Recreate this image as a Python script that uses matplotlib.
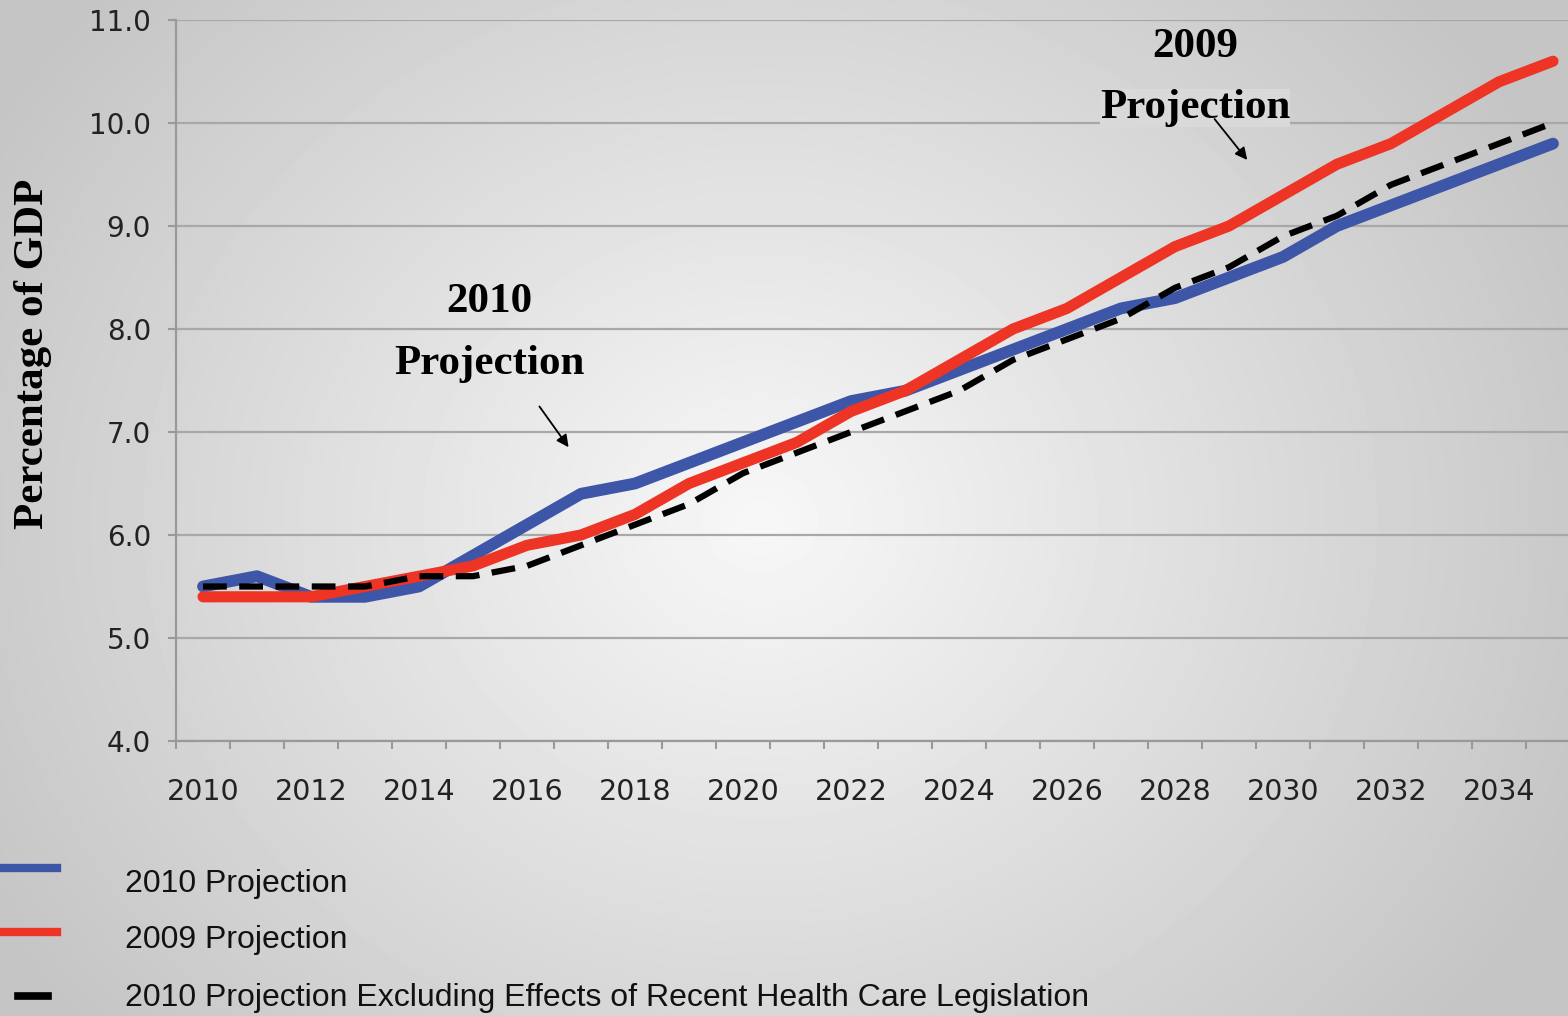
import numpy as np
import matplotlib
matplotlib.use('Agg')
import matplotlib.pyplot as plt
from matplotlib.lines import Line2D

# Data (percentage of GDP)
years = list(range(2010, 2036))
proj_2010 = [5.5, 5.6, 5.4, 5.4, 5.5, 5.8, 6.1, 6.4, 6.5, 6.7,
             6.9, 7.1, 7.3, 7.4, 7.6, 7.8, 8.0, 8.2, 8.3, 8.5,
             8.7, 9.0, 9.2, 9.4, 9.6, 9.8]
proj_2009 = [5.4, 5.4, 5.4, 5.5, 5.6, 5.7, 5.9, 6.0, 6.2, 6.5,
             6.7, 6.9, 7.2, 7.4, 7.7, 8.0, 8.2, 8.5, 8.8, 9.0,
             9.3, 9.6, 9.8, 10.1, 10.4, 10.6]
proj_excl = [5.5, 5.5, 5.5, 5.5, 5.6, 5.6, 5.7, 5.9, 6.1, 6.3,
             6.6, 6.8, 7.0, 7.2, 7.4, 7.7, 7.9, 8.1, 8.4, 8.6,
             8.9, 9.1, 9.4, 9.6, 9.8, 10.0]
x_labels = list(range(2010, 2035, 2))
y_ticks = [4.0, 5.0, 6.0, 7.0, 8.0, 9.0, 10.0, 11.0]
legend_labels = ["2010 Projection", "2009 Projection",
                 "2010 Projection Excluding Effects of Recent Health Care Legislation"]

BLUE = '#3d56a8'
RED = '#ee3424'
W, H = 1568, 1016

fig = plt.figure(figsize=(W / 100, H / 100), dpi=100)

# radial grey background, light in the middle
bg = fig.add_axes([0, 0, 1, 1], zorder=-5)
yy, xx = np.mgrid[0:H, 0:W]
r = np.sqrt(((xx - 760) / 850.0) ** 2 + ((yy - 520) / 750.0) ** 2)
shade = np.clip(0.97 - 0.19 * r, 0.77, 0.97)
bg.imshow(shade, cmap='gray', vmin=0, vmax=1, aspect='auto', interpolation='bilinear')
bg.axis('off')

ax = fig.add_axes([176 / W, 1 - 741 / H, (1580 - 176) / W, (741 - 20) / H])
ax.set_facecolor('none')

ax.plot(years, proj_2010, color=BLUE, lw=8.5, solid_capstyle='round', zorder=3)
ax.plot(years, proj_2009, color=RED, lw=8.0, solid_capstyle='round', zorder=4)
ax.plot(years, proj_excl, color='black', lw=4.5, dashes=(3.8, 2.0), zorder=5)

ax.set_xlim(2009.5, 2035.5)
ax.set_ylim(4, 11)
ax.set_yticks(y_ticks)
ax.set_yticklabels([f"{v:.1f}" for v in y_ticks], fontsize=20, color='#222222')
ax.set_xticks(x_labels)
ax.set_xticklabels([str(v) for v in x_labels], fontsize=20.5, color='#222222')
ax.set_xticks(np.arange(2009.5, 2036, 1), minor=True)
ax.tick_params(axis='x', which='major', length=0, pad=27)
ax.tick_params(axis='x', which='minor', length=6, width=1.5, color='#999999')
ax.tick_params(axis='y', length=6, width=1.5, color='#999999', pad=12)

ax.grid(axis='y', color='#a8a8a8', lw=1.6, zorder=1)
for s in ['top', 'right']:
    ax.spines[s].set_visible(False)
for s in ['left', 'bottom']:
    ax.spines[s].set_color('#999999')
    ax.spines[s].set_linewidth(1.6)

fig.text(33 / W, 1 - 354 / H, "Percentage of GDP", family='Liberation Serif',
         fontweight='bold', fontsize=31, rotation=90, ha='center', va='center')

# callouts
ann = dict(family='Liberation Serif', fontweight='bold', fontsize=31, ha='center', va='center')
ax.text(2015.31, 8.26, "2010", **ann)
ax.text(2015.31, 7.66, "Projection", **ann)
ax.text(2028.37, 10.74, "2009", **ann)
ax.text(2028.37, 10.15, "Projection", zorder=6,
        bbox=dict(facecolor='#d9d9d9', edgecolor='none', pad=0), **ann)
arrow = dict(arrowstyle='-|>', color='black', lw=1.3, mutation_scale=18)
ax.annotate("", xy=(2016.8, 6.83), xytext=(2016.2, 7.27), arrowprops=arrow, zorder=7)
ax.annotate("", xy=(2029.37, 9.62), xytext=(2028.7, 10.06), arrowprops=arrow, zorder=7)

# legend drawn by hand below the plot
fig.add_artist(Line2D([0, 57 / W], [1 - 868 / H] * 2, color=BLUE, lw=6))
fig.add_artist(Line2D([0, 57 / W], [1 - 932 / H] * 2, color=RED, lw=6))
fig.add_artist(Line2D([18 / W, 48 / W], [1 - 996 / H] * 2, color='black', lw=5.5))
for lab, ypx in zip(legend_labels, [884, 940, 998]):
    fig.text(125 / W, 1 - ypx / H, lab, family='Liberation Sans', fontsize=23,
             color='#111111', va='center', ha='left')

fig.savefig('out.png', dpi=100)
